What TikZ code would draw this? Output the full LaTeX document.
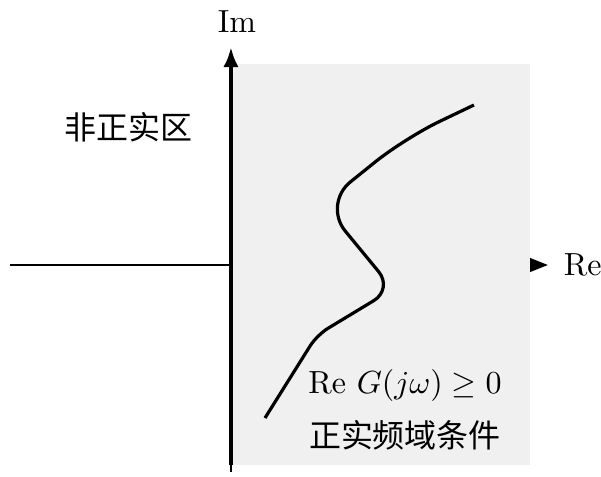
\documentclass[tikz,border=0pt]{standalone}
\usepackage{amsmath,amssymb}
\usepackage{xcolor}
\usepackage{fontspec}
\newfontfamily\cjk{Noto Sans CJK SC}
\usepackage{tikz}
\usetikzlibrary{positioning, arrows.meta, calc}

\definecolor{regiongray}{gray}{0.94}

\begin{document}
\begin{tikzpicture}[
        axis/.style={line width=0.8pt},
        curve/.style={line width=1pt},
        lbl/.style={font=\normalsize},
        zh/.style={font=\cjk},
        >=Latex
    ]
    \useasboundingbox (-2.538, -2.319) rectangle (4.066, 2.912);
    % Axis end points
    \coordinate (O)  at (0, 0);
    \coordinate (xs) at (-2.429, 0);
    \coordinate (xe) at (3.484, 0);
    \coordinate (yb) at (0, -2.275);
    \coordinate (yr) at (0, -2.198);
    \coordinate (ye) at (0, 2.396);
    % Real axis, partly hidden by the region
    \draw[axis, -{Triangle[length=5.6pt, width=4.2pt]}] (xs) -- (xe);
    % Positive real region
    \fill[regiongray] (0.022, -2.198) rectangle (3.286, 2.209);
    % Imaginary axis
    \draw[line width=0.6pt] (yb) -- (yr);
    \draw[line width=1.3pt, -{Latex[length=6.3pt, width=4.8pt]}] (yr) -- (ye);
    % Labels
    \node[lbl] (imlabel) at (0.066, 2.670) {Im};
    \node[lbl, anchor=west, inner sep=0pt] (relabel) at (3.650, 0) {Re};
    \node[zh] (nonpr) at (-1.121, 1.516) {非正实区};
    \node[lbl] (cond) at (1.912, -1.319) {Re $G(j\omega) \geq 0$};
    \node[zh] (condzh) at (1.912, -1.868) {正实频域条件};
    % Frequency response curve
    \draw[curve, rounded corners=4pt] (0.374, -1.681) -- (0.945, -0.769)
        [rounded corners=7pt] -- (1.780, -0.264)
        [rounded corners=11pt] -- (1.011, 0.670)
        [rounded corners=12pt] -- (1.912, 1.396) -- (2.670, 1.758);
\end{tikzpicture}
\end{document}
